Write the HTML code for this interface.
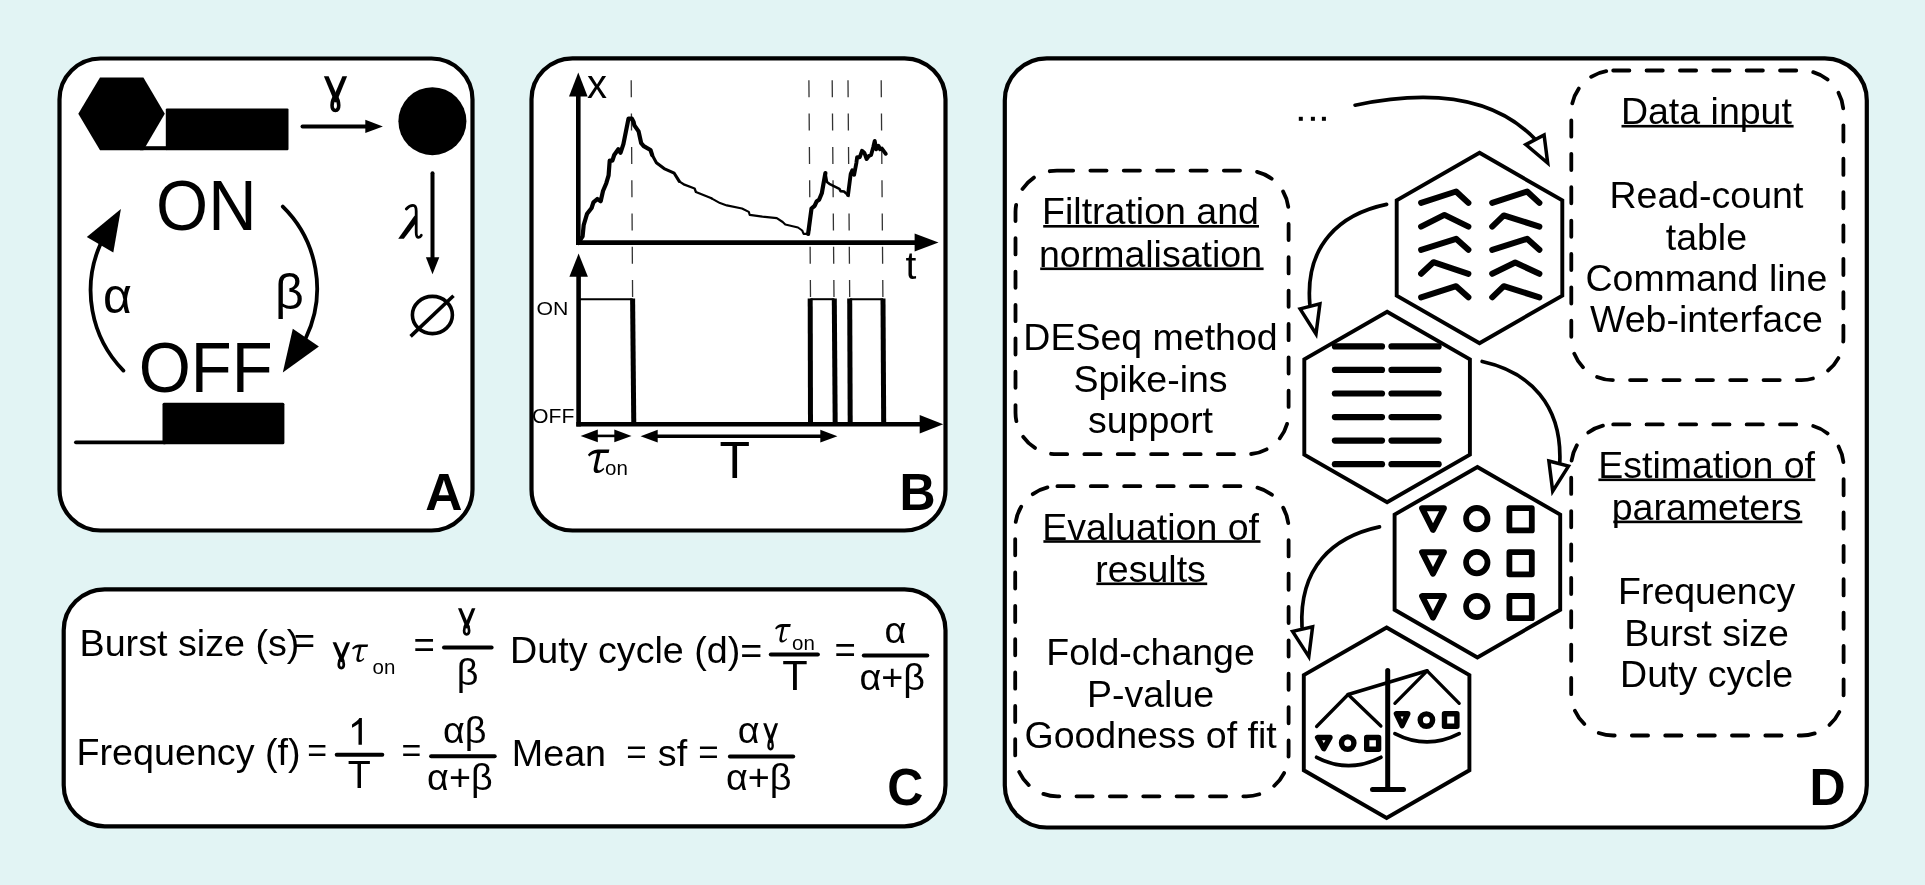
<!DOCTYPE html>
<html><head><meta charset="utf-8">
<style>
html,body{margin:0;padding:0;background:#e2f4f4;}
body{width:1925px;height:885px;overflow:hidden;}
svg{display:block;will-change:transform;}
text{font-family:"Liberation Sans",sans-serif;fill:#000;}
.ser{font-family:"Liberation Serif",serif;font-style:italic;}
.b{font-weight:bold;}
</style></head><body>
<svg width="1925" height="885" viewBox="0 0 1925 885">
<defs>
<g id="gam">
<polygon points="0,0 4.7,0 15.4,24.6 10.9,26.4"/>
<polygon points="18.5,0 23.2,0 12.5,26.4 8,24.6"/>
<path d="M11.5 19.5 C7.2 25.2, 6.9 34.3, 11.5 34.3 C16.1 34.3, 15.8 25.2, 11.5 19.5 Z" fill="none" stroke="#000" stroke-width="3.6"/>
</g>
<g id="tau">
<path d="M0 5.2 C2.8 1.8, 5.5 0.2, 10 0 L21.5 0 L20.7 3.6 L12.6 3.6 L9.6 16.6 C9.1 19.6, 9.6 20.9, 11.1 20.9 C12.6 20.9, 14 19.9, 15.4 18.2 L16.4 19.4 C14.2 22, 12.1 23.5, 9.4 23.5 C6.4 23.5, 5.4 21.4, 5.9 18.4 L9 3.7 C5.6 3.9, 3.4 5, 1.4 6.9 Z"/>
</g>
</defs>
<rect x="0" y="0" width="1925" height="885" fill="#e2f4f4"/>
<!-- panels -->
<g fill="#fff" stroke="#000" stroke-width="4.2">
<rect x="59.5" y="58.5" width="413" height="472" rx="41"/>
<rect x="531.5" y="58.3" width="414" height="472.2" rx="41"/>
<rect x="63.7" y="589.3" width="881.8" height="237" rx="41"/>
<rect x="1004.8" y="58.4" width="862" height="769.1" rx="42"/>
</g>
<g class="b" font-size="50" font-weight="bold">
<text transform="translate(425.3 510.1) scale(1.03 1.035)">A</text>
<text transform="translate(899.6 510.1) scale(1 1.03)">B</text>
<text transform="translate(887.2 805.2) scale(1 1.03)">C</text>
<text transform="translate(1809.6 804.8) scale(1 1.03)">D</text>
</g>
<g id="pA">
<polygon points="78.3,113.8 100,77.6 143.4,77.6 164.8,113.8 143.4,150.2 100,150.2" fill="#000"/>
<rect x="140" y="146.2" width="27" height="4" fill="#000"/>
<rect x="165.8" y="108.4" width="122.7" height="41.8" rx="1.2" fill="#000"/>
<line x1="302.5" y1="126.4" x2="367" y2="126.4" stroke="#000" stroke-width="4" stroke-linecap="round"/>
<polygon points="365.3,119.7 382.9,126.4 365.3,133" fill="#000"/>
<use href="#gam" transform="translate(323.9 76.2)"/>
<circle cx="432.4" cy="121.2" r="34" fill="#000"/>
<line x1="432.5" y1="173.3" x2="432.5" y2="259" stroke="#000" stroke-width="4" stroke-linecap="round"/>
<polygon points="425.9,257.3 439.3,257.3 432.5,274.3" fill="#000"/>
<path d="M406.3 209 C408.5 206.5, 411 205.4, 413 205.4 C415.4 205.4, 416.2 207.5, 416.2 211 L416.2 232.5 C416.2 236.2, 417.3 237.4, 418.6 237.4 C419.8 237.4, 420.6 236.6, 421.3 235.3" fill="none" stroke="#000" stroke-width="2.8" stroke-linecap="round"/>
<polygon points="414.6,215.5 417,221.5 403.8,238.8 398.2,238.8"/>
<ellipse cx="432.4" cy="315" rx="20" ry="18.6" fill="none" stroke="#000" stroke-width="3.6"/>
<line x1="410.6" y1="336.4" x2="453.5" y2="295.7" stroke="#000" stroke-width="3.6"/>
<text transform="translate(156.1 229.8) scale(1 1.055)" font-size="67">ON</text>
<text transform="translate(138.7 391.7) scale(1 1.05)" font-size="67">OFF</text>
<text x="103" y="312.5" font-size="50">&#945;</text>
<text x="275" y="309" font-size="50">&#946;</text>
<path d="M123.4 370.6 A114.5 114.5 0 0 1 100.5 243.9" fill="none" stroke="#000" stroke-width="3.8" stroke-linecap="round"/>
<polygon points="120.9,208.9 86.8,237 113.3,252.4" fill="#000"/>
<path d="M282.8 206.6 A114.5 114.5 0 0 1 305.8 338" fill="none" stroke="#000" stroke-width="3.8" stroke-linecap="round"/>
<polygon points="282.8,372.5 292.8,328.8 318.9,346.4" fill="#000"/>
<line x1="75.9" y1="442.3" x2="165" y2="442.3" stroke="#000" stroke-width="3.7" stroke-linecap="round"/>
<rect x="162.5" y="402.7" width="121.9" height="41.5" rx="1.5" fill="#000"/>
</g>
<g id="pB">
<g stroke="#333" stroke-width="1.3" stroke-dasharray="17 16.3" fill="none">
<line x1="631.2" y1="80.3" x2="632.6" y2="298"/>
<line x1="808.9" y1="80.3" x2="810.5" y2="298"/>
<line x1="832.2" y1="80.3" x2="834" y2="298"/>
<line x1="848" y1="80.3" x2="849.7" y2="298"/>
<line x1="881.2" y1="80.3" x2="882.9" y2="298"/>
</g>
<g fill="none" stroke="#000" stroke-linejoin="round" stroke-linecap="round">
<polyline points="578.1,243.0 580.5,239.5 582.6,236.3 583.7,225.0 587.1,213.7 591.6,208.0 593.4,202.4 597.3,199.0 600.7,201.2 603.0,191.0 606.3,183.2 608.6,175.3 609.7,160.6 612.4,160.6 614.2,155.0 618.3,149.3 620.6,152.7 623.4,144.1 628.5,118.6 631.9,118.6 633.6,122.0 634.4,125.4 638.6,131.4 641.2,143.2 643.7,146.1 650.5,150.0 652.2,155.1" stroke-width="4.2"/>
<polyline points="652.2,155.1 656.4,162.7 664.1,168.6 674.2,173.2 679.3,181.4" stroke-width="3.1"/>
<polyline points="679.3,181.4 684.4,184.7 694.6,188.5 695.9,192.0 711.5,198.3" stroke-width="2.3"/>
<polyline points="711.5,198.3 720.0,203.1 726.8,205.4 742.0,208.5 748.8,211.9 749.7,214.9 762.4,216.6 776.8,218.1 782.7,222.0 785.3,224.6 798.0,227.5 802.2,230.5 803.6,233.9 808.1,233.9" stroke-width="2.1"/>
<polyline points="808.1,233.9 809.0,227.2 811.5,208.5 814.6,205.8 816.8,201.2 819.1,199.7 821.8,193.3 823.6,183.2 825.4,173.0" stroke-width="4.2"/>
<polyline points="825.4,173.0 827.0,182.0 829.3,183.8 839.4,188.8 840.6,191.1 844.0,191.5 848.0,195.1" stroke-width="2.6"/>
<polyline points="848.0,195.1 850.7,174.1 852.3,170.3 854.1,174.8 856.4,162.8 857.1,157.2 859.8,157.2 862.0,150.8 864.3,152.7 866.6,159.0 868.8,156.0 871.1,154.9 873.3,147.0 874.7,140.9 876.3,149.3 878.5,145.9 880.1,149.3 881.9,148.6 885.8,153.8" stroke-width="3.9"/>
</g>
<g stroke="#000" stroke-width="4.6" fill="none">
<line x1="578.3" y1="94" x2="578.3" y2="245"/>
<line x1="576" y1="242.6" x2="917" y2="242.6"/>
<line x1="578.6" y1="275" x2="578.6" y2="426.5"/>
<line x1="576.3" y1="424.2" x2="921" y2="424.2"/>
</g>
<g fill="#000">
<polygon points="569,96.4 578.3,72.4 587.6,96.4"/>
<polygon points="914.6,233.6 938.5,242.6 914.6,251.5"/>
<polygon points="569.4,276.7 578.6,253.6 587.9,276.7"/>
<polygon points="919.7,415.1 943.2,424.2 919.7,433.5"/>
</g>
<g stroke="#000" fill="none">
<polyline points="578.6,299.2 632.6,299.2" stroke-width="2"/>
<polyline points="810.4,299.2 834.4,299.2" stroke-width="2"/>
<polyline points="849.8,299.2 883.2,299.2" stroke-width="2"/>
<g stroke-width="5">
<line x1="632.6" y1="298.5" x2="633.8" y2="426"/>
<line x1="810.2" y1="298.5" x2="810.5" y2="426"/>
<line x1="834.3" y1="298.5" x2="835.2" y2="426"/>
<line x1="849.7" y1="298.5" x2="850.2" y2="426"/>
<line x1="883" y1="298.5" x2="883.7" y2="426"/>
</g>
</g>
<line x1="590" y1="435.9" x2="622" y2="435.9" stroke="#000" stroke-width="2.6"/>
<polygon points="580.6,435.9 597.8,429.6 597.8,442.2" fill="#000"/>
<polygon points="631.5,435.9 614.3,429.6 614.3,442.2" fill="#000"/>
<line x1="650" y1="436.2" x2="828" y2="436.2" stroke="#000" stroke-width="3.4"/>
<polygon points="640.6,436.2 657.7,429.8 657.7,442.6" fill="#000"/>
<polygon points="837.4,436.2 820.3,429.8 820.3,442.6" fill="#000"/>
<text x="587" y="98" font-size="40">x</text>
<text x="905.5" y="278.5" font-size="39">t</text>
<text x="0" y="0" font-size="18.8" transform="translate(536.6 315) scale(1.13 1)">ON</text>
<text x="0" y="0" font-size="19.8" transform="translate(532 422.8) scale(1.07 1)">OFF</text>
<use href="#tau" transform="translate(587.9 449.5)"/>
<text x="605.1" y="474.5" font-size="20.5">on</text>
<text transform="translate(719.4 478.1) scale(1 1.02)" font-size="50">T</text>
</g>
<g id="pC" font-size="37.7">
<text x="79.5" y="656.3">Burst size (s)</text>
<text x="293.8" y="652.7" font-size="36.5">=</text>
<use href="#gam" transform="translate(332.6 642.3) scale(0.755)"/>
<use href="#tau" transform="translate(352 644.4) scale(0.75)"/>
<text x="372.6" y="673.8" font-size="20.5">on</text>
<text x="413.5" y="656.5" font-size="36.5">=</text>
<use href="#gam" transform="translate(458 608.3) scale(0.75 0.762)"/>
<text x="456.8" y="684.6">&#946;</text>
<text x="510" y="662.9">Duty cycle (d)=</text>
<use href="#tau" transform="translate(775.1 624.1) scale(0.73 0.78)"/>
<text x="792" y="649.9" font-size="20.5">on</text>
<text transform="translate(782.2 689.7) scale(1 1.035)" font-size="41.6">T</text>
<text x="834.4" y="662.1" font-size="36.5">=</text>
<text x="884.5" y="642.7">&#945;</text>
<text x="859.4" y="689.6">&#945;+&#946;</text>
<text x="76.5" y="764.9">Frequency (f)</text>
<text x="307.2" y="761.5" font-size="34">=</text>
<path d="M358.5 744.8 L361.9 744.8 L361.9 718.1 L359.4 718.1 C358 720.5, 355.5 722.5, 352 724.4 L352 727.7 C354.6 726.6, 356.8 725.3, 358.5 723.8 Z"/>
<text transform="translate(347.7 787.7) scale(1 1.03)">T</text>
<text x="401.6" y="761.5" font-size="34">=</text>
<text x="443" y="742.6">&#945;&#946;</text>
<text x="427.1" y="789.6">&#945;+&#946;</text>
<text x="511.8" y="765.6">Mean</text>
<text x="626.3" y="764" font-size="35">=</text>
<text x="657.8" y="765.6">sf</text>
<text x="698.3" y="764" font-size="35">=</text>
<text x="737.7" y="742.8">&#945;</text>
<use href="#gam" transform="translate(763.2 723.2) scale(0.642 0.759)"/>
<text x="726" y="789.6">&#945;+&#946;</text>
<g stroke="#000" stroke-width="4" stroke-linecap="round">
<line x1="444" y1="647.4" x2="491.6" y2="647.4"/>
<line x1="770.8" y1="654.5" x2="817.9" y2="654.5"/>
<line x1="863.8" y1="655.5" x2="927.3" y2="655.5"/>
<line x1="336.7" y1="754.8" x2="382.3" y2="754.8"/>
<line x1="431.1" y1="756.2" x2="494.7" y2="756.2"/>
<line x1="729.9" y1="756.4" x2="793.2" y2="756.4"/>
</g>
</g>
<g id="pD">
<g fill="none" stroke="#000" stroke-width="3.8" stroke-dasharray="16.2 17.17" stroke-linecap="round">
<rect x="1571.3" y="70.5" width="272.1" height="309.6" rx="41.9"/>
<rect x="1015.5" y="170.6" width="273.1" height="283.6" rx="41.5"/>
<rect x="1015.2" y="486.2" width="273.4" height="310.1" rx="42.2"/>
<rect x="1571.2" y="424.4" width="272.4" height="311.1" rx="42.0"/>
</g>
<g fill="none" stroke="#000" stroke-width="3.9" stroke-linejoin="miter">
<polygon points="1479.5,152.8 1562.3,200.4 1562.3,295.6 1479.5,343.2 1396.7,295.6 1396.7,200.4"/>
<polygon points="1387.1,311.8 1469.9,359.4 1469.9,454.6 1387.1,502.2 1304.3,454.6 1304.3,359.4"/>
<polygon points="1477.4,467.0 1560.2,514.6 1560.2,609.8 1477.4,657.4 1394.6,609.8 1394.6,514.6"/>
<polygon points="1386.6,627.5 1469.4,675.1 1469.4,770.3 1386.6,817.9 1303.8,770.3 1303.8,675.1"/>
</g>
<g fill="none" stroke="#000" stroke-width="6" stroke-linecap="round" stroke-linejoin="round">
<polyline points="1421.1,202.9 1456.1,191.5 1468.4,202.9"/>
<polyline points="1421.1,226.6 1444.4,214.9 1468.4,226.6"/>
<polyline points="1421.1,249.8 1456.1,238.8 1468.4,249.8"/>
<polyline points="1421.1,273.8 1433.4,262.2 1468.4,273.8"/>
<polyline points="1421.1,297.3 1456.1,286.2 1468.4,297.3"/>
<polyline points="1492.2,202.9 1527.1,191.5 1539.4,202.9"/>
<polyline points="1492.2,226.6 1503.8,215.4 1539.4,226.6"/>
<polyline points="1492.2,249.8 1527.1,238.8 1539.4,249.8"/>
<polyline points="1492.2,273.8 1515.2,262.5 1539.4,273.8"/>
<polyline points="1492.2,297.3 1503.8,286.2 1539.4,297.3"/>
<line x1="1334.9" y1="346.40" x2="1382" y2="346.40" stroke-width="6.2"/>
<line x1="1391.5" y1="346.40" x2="1438.6" y2="346.40" stroke-width="6.2"/>
<line x1="1334.9" y1="369.95" x2="1382" y2="369.95" stroke-width="6.2"/>
<line x1="1391.5" y1="369.95" x2="1438.6" y2="369.95" stroke-width="6.2"/>
<line x1="1334.9" y1="393.50" x2="1382" y2="393.50" stroke-width="6.2"/>
<line x1="1391.5" y1="393.50" x2="1438.6" y2="393.50" stroke-width="6.2"/>
<line x1="1334.9" y1="417.05" x2="1382" y2="417.05" stroke-width="6.2"/>
<line x1="1391.5" y1="417.05" x2="1438.6" y2="417.05" stroke-width="6.2"/>
<line x1="1334.9" y1="440.60" x2="1382" y2="440.60" stroke-width="6.2"/>
<line x1="1391.5" y1="440.60" x2="1438.6" y2="440.60" stroke-width="6.2"/>
<line x1="1334.9" y1="464.15" x2="1382" y2="464.15" stroke-width="6.2"/>
<line x1="1391.5" y1="464.15" x2="1438.6" y2="464.15" stroke-width="6.2"/>
<polygon points="1422.1,508.3 1443.9,508.3 1433.0,529.8" stroke-width="6"/>
<circle cx="1476.8" cy="518.7" r="10.7" stroke-width="5.8"/>
<rect x="1509.4" y="508.2" width="22.4" height="22.2" stroke-width="5.8"/>
<polygon points="1422.1,552.2 1443.9,552.2 1433.0,573.7" stroke-width="6"/>
<circle cx="1476.8" cy="562.6" r="10.7" stroke-width="5.8"/>
<rect x="1509.4" y="552.1" width="22.4" height="22.2" stroke-width="5.8"/>
<polygon points="1422.1,596.1 1443.9,596.1 1433.0,617.6" stroke-width="6"/>
<circle cx="1476.8" cy="606.5" r="10.7" stroke-width="5.8"/>
<rect x="1509.4" y="596.0" width="22.4" height="22.2" stroke-width="5.8"/>
</g>
<g fill="none" stroke="#000" stroke-linecap="round" stroke-linejoin="round">
<line x1="1387.7" y1="670.5" x2="1387.7" y2="789.4" stroke-width="5"/>
<line x1="1372.5" y1="789.4" x2="1403.5" y2="789.4" stroke-width="5"/>
<line x1="1348.1" y1="694.5" x2="1427.1" y2="670.8" stroke-width="3.5"/>
<polyline points="1316.6,726.5 1348.1,694.5 1380.9,726" stroke-width="3.3"/>
<polyline points="1394.9,703.3 1427.1,670.8 1459.2,703.3" stroke-width="3.3"/>
<path d="M1316.6 757.3 Q1348.5 774 1380.9 757.3" stroke-width="3.7"/>
<path d="M1394.9 733.6 Q1427 750.2 1459.2 733.6" stroke-width="3.7"/>
<g stroke-width="5.4">
<polygon points="1317.6,737.5 1330,737.5 1323.8,748.7"/>
<circle cx="1347.7" cy="743.1" r="6.2"/>
<rect x="1366.7" y="737.5" width="11.9" height="11.7"/>
<polygon points="1396.4,713.8 1407.8,713.8 1402.1,725.7"/>
<circle cx="1426.4" cy="720.1" r="6.2"/>
<rect x="1444.5" y="713.8" width="12.4" height="12.4"/>
</g>
</g>
<g fill="none" stroke="#000" stroke-width="3.7" stroke-linecap="round">
<path d="M1355.1 105.2 C1420 91.5, 1490 92.5, 1535 139"/>
<path d="M1386.6 204.4 C1340 214, 1305 245, 1309.8 304"/>
<path d="M1482.2 361.5 C1530 372, 1562 405, 1559.8 462"/>
<path d="M1379.5 526.9 C1332 537, 1299 568, 1302 627"/>
</g>
<g fill="#fff" stroke="#000" stroke-width="3.5" stroke-linejoin="miter">
<polygon points="1525.8,144.6 1544.1,135 1547.7,163"/>
<polygon points="1300.1,308.9 1319.9,303.9 1316,334"/>
<polygon points="1548.9,461 1568.5,466.1 1552.7,491.2"/>
<polygon points="1292.6,631.4 1312.6,626.7 1308.8,656.6"/>
</g>
<g fill="#000">
<rect x="1298.8" y="116.8" width="4" height="4"/>
<rect x="1310.9" y="116.8" width="4" height="4"/>
<rect x="1321.9" y="116.8" width="4" height="4"/>
</g>
<g font-size="37.5" text-anchor="middle">
<text x="1706.4" y="124.3">Data input</text>
<text x="1706.4" y="208.0">Read-count</text>
<text x="1706.4" y="249.8">table</text>
<text x="1706.4" y="290.8">Command line</text>
<text x="1706.4" y="332.3">Web-interface</text>
<text x="1150.5" y="224.4">Filtration and</text>
<text x="1150.5" y="266.9">normalisation</text>
<text x="1150.5" y="349.6">DESeq method</text>
<text x="1150.5" y="391.9">Spike-ins</text>
<text x="1150.5" y="432.8">support</text>
<text x="1150.6" y="539.6">Evaluation of</text>
<text x="1150.6" y="581.9">results</text>
<text x="1150.6" y="664.6">Fold-change</text>
<text x="1150.6" y="707.0">P-value</text>
<text x="1150.6" y="748.4">Goodness of fit</text>
<text x="1706.6" y="477.9">Estimation of</text>
<text x="1706.6" y="520.0">parameters</text>
<text x="1706.6" y="604.1">Frequency</text>
<text x="1706.6" y="645.8">Burst size</text>
<text x="1706.6" y="686.9">Duty cycle</text>
</g>
<g fill="#000">
<rect x="1621.5" y="124.9" width="172.1" height="2.6"/>
<rect x="1043.2" y="225.0" width="215.8" height="2.6"/>
<rect x="1040.2" y="267.5" width="223.4" height="2.6"/>
<rect x="1043.4" y="540.2" width="217.1" height="2.6"/>
<rect x="1096.4" y="582.5" width="110.8" height="2.6"/>
<rect x="1598.4" y="478.5" width="216.9" height="2.6"/>
<rect x="1613.3" y="520.6" width="189.0" height="2.6"/>
</g>

</g>
</svg>
</body></html>
